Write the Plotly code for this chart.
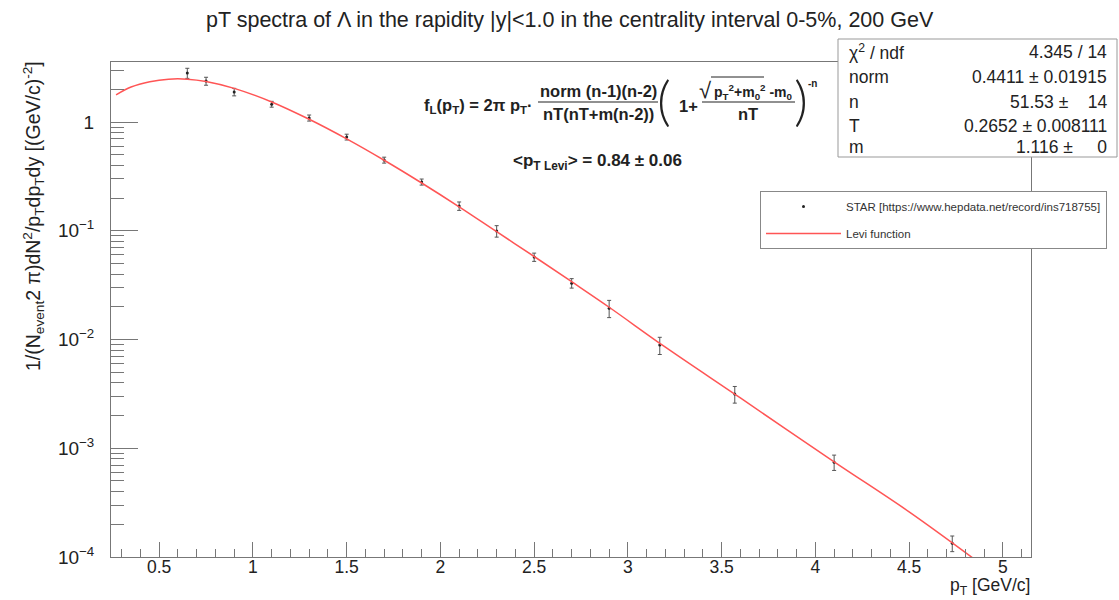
import plotly.graph_objects as go

# ---------------- data ----------------
pt_data = [0.65, 0.75, 0.90, 1.10, 1.30, 1.50, 1.70, 1.90, 2.10, 2.30, 2.50,
           2.70, 2.90, 3.17, 3.57, 4.10, 4.73]
y_data = [2.82, 2.38, 1.89, 1.46, 1.09, 0.728, 0.447, 0.281, 0.169, 0.0994,
          0.0573, 0.033, 0.0194, 0.00888, 0.00315, 0.000745, 0.000134]
y_err = [0.30, 0.20, 0.15, 0.09, 0.07, 0.045, 0.028, 0.018, 0.015, 0.012,
         0.005, 0.0033, 0.0035, 0.0016, 0.00055, 0.00012, 0.000022]

pt_fit = [0.27, 0.35, 0.45, 0.55, 0.65, 0.75, 0.90, 1.10, 1.30, 1.50, 1.70,
          1.90, 2.10, 2.30, 2.50, 2.70, 2.90, 3.20, 3.60, 4.10, 4.50, 4.85]
y_fit = [1.78, 2.10, 2.35, 2.48, 2.48, 2.36, 2.04, 1.53, 1.06, 0.70, 0.445,
         0.275, 0.166, 0.098, 0.058, 0.034, 0.0198, 0.0085, 0.0029, 0.00075,
         0.00026, 0.000095]

x_tickvals = [0.5, 1, 1.5, 2, 2.5, 3, 3.5, 4, 4.5, 5]
x_ticktext = ["0.5", "1", "1.5", "2", "2.5", "3", "3.5", "4", "4.5", "5"]
y_tickvals = [1e-4, 1e-3, 1e-2, 1e-1, 1]
y_ticktext = ["10<sup>\u22124</sup>", "10<sup>\u22123</sup>", "10<sup>\u22122</sup>",
              "10<sup>\u22121</sup>", "1"]

stat_labels = ["\u03c7<sup>2</sup> / ndf", "norm", "n", "T", "m"]
stat_values = ["4.345 / 14", "0.4411 \u00b1 0.01915", "51.53 \u00b1 \u00a0\u00a0\u00a014",
               "0.2652 \u00b1 0.008111", "1.116 \u00b1 \u00a0\u00a0\u00a0\u00a00"]

# ---------------- layout geometry ----------------
W, H = 1119, 600
L, R, T, B = 111, 1031, 62, 557  # plot frame in pixels


def px(x):
    return (x - L) / (R - L)


def py(y):
    return (B - y) / (B - T)


FONT = "Liberation Sans, Arial, Helvetica, sans-serif"
TXT = "#222222"
AXC = "#777777"

fig = go.Figure()

fig.add_trace(go.Scatter(
    x=pt_data, y=y_data, mode="markers",
    name="STAR [https://www.hepdata.net/record/ins718755]",
    legendgroup="a",
    marker=dict(size=3, color="#222222"),
    error_y=dict(type="data", array=y_err, visible=True, color="#555555",
                 thickness=1, width=2),
))

fig.add_trace(go.Scatter(
    x=pt_fit, y=y_fit, mode="lines", name="Levi function", legendgroup="b",
    line=dict(color="rgb(255,85,85)", width=1.5, shape="spline", smoothing=1.0),
))

annotations = []
shapes = []


def ann(text, x, y, xa="center", font=None, angle=0):
    annotations.append(dict(text=text, x=px(x), y=py(y), xref="paper", yref="paper",
                            showarrow=False, xanchor=xa, yanchor="middle", font=font,
                            textangle=angle))


def hline(x0, x1, y, color=TXT, w=1.2):
    shapes.append(dict(type="line", xref="paper", yref="paper", x0=px(x0), x1=px(x1),
                       y0=py(y), y1=py(y), line=dict(color=color, width=w)))


# Title
ann("pT spectra of \u039b in the rapidity |y|<1.0 in the centrality interval 0-5%, 200 GeV",
    570, 20, font=dict(family=FONT, size=21.5, color=TXT))

# Y axis title (ROOT style: right aligned at the top)
ann("1/(N<sub>event</sub>2 \u03c0)dN<sup>2</sup>/p<sub>T</sub>dp<sub>T</sub>dy [(GeV/c)<sup>-2</sup>]",
    33, 216, font=dict(family=FONT, size=19.5, color=TXT), angle=-90)

# X axis title (bottom of the text box at the bottom edge of the picture)
annotations.append(dict(text="p<sub>T</sub> [GeV/c]", x=px(1032), y=0, xref="paper",
                        yref="paper", yshift=-(H - B), showarrow=False,
                        xanchor="right", yanchor="bottom",
                        font=dict(family=FONT, size=17.5, color=TXT)))

# Formula
fb = dict(family=FONT, size=16.5, color=TXT)
paren = dict(family="Lato, Liberation Sans, sans-serif", size=54, color=TXT, weight=300)

ann("<b>f<sub>L</sub>(p<sub>T</sub>) = 2\u03c0 p<sub>T</sub>\u00b7</b>", 535, 106, xa="right", font=fb)
ann("<b>norm (n-1)(n-2)</b>", 598, 91, font=fb)
hline(538, 658, 102)
ann("<b>nT(nT+m(n-2))</b>", 598, 114, font=fb)
ann("(", 664, 99, font=paren)
ann("<b>1+</b>", 688, 106, font=fb)
ann("\u221a", 705, 90, font=dict(family=FONT, size=22, color=TXT))
ann("<b>p<sub>T</sub><sup>2</sup>+m<sub>0</sub><sup>2</sup> -m<sub>0</sub></b>", 712, 92, xa="left",
    font=dict(family=FONT, size=14, color=TXT))
hline(711, 764, 77, w=1)
hline(702, 795, 102)
ann("<b>nT</b>", 748, 114, font=fb)
ann(")", 801, 99, font=paren)
ann("<b>-n</b>", 812, 84, font=dict(family=FONT, size=10, color=TXT))

ann("<b>&lt;p<sub>T Levi</sub>&gt; = 0.84 \u00b1 0.06</b>", 597, 162,
    font=dict(family=FONT, size=17, color=TXT))

# Stats box
shapes.append(dict(type="rect", xref="paper", yref="paper", x0=px(838), x1=px(1117),
                   y0=py(157), y1=py(39), line=dict(color="#999999", width=1),
                   fillcolor="white", layer="above"))
row_y = [52, 77, 102, 126, 147]
for lab, val, ry in zip(stat_labels, stat_values, row_y):
    ann(lab, 847, ry, xa="left", font=dict(family=FONT, size=17.5, color=TXT))
    ann(val, 1109, ry, xa="right", font=dict(family=FONT, size=17.5, color=TXT))

fig.update_layout(
    width=W, height=H, autosize=False,
    margin=dict(l=L, r=W - R, t=T, b=H - B, pad=0),
    paper_bgcolor="white", plot_bgcolor="white",
    font=dict(family=FONT, color=TXT),
    showlegend=True,
    legend=dict(x=px(760), y=py(191), xanchor="left", yanchor="top",
                bgcolor="white", bordercolor="#888888", borderwidth=1,
                font=dict(family=FONT, size=11.5, color="#333333"),
                itemwidth=75, tracegroupgap=8, traceorder="grouped"),
    annotations=annotations, shapes=shapes,
    xaxis=dict(range=[0.243, 5.15], showgrid=False, zeroline=False,
               showline=True, mirror=True, linecolor=AXC, linewidth=1,
               ticks="inside", ticklen=15, tickcolor=AXC, tickwidth=1,
               tickvals=x_tickvals, ticktext=x_ticktext, ticklabelstandoff=-6,
               tickfont=dict(family=FONT, size=17.5, color=TXT),
               minor=dict(ticks="inside", ticklen=8, dtick=0.1, tick0=0,
                          tickcolor=AXC, showgrid=False)),
    yaxis=dict(type="log", range=[-4, 0.552], showgrid=False, zeroline=False,
               showline=True, mirror=True, linecolor=AXC, linewidth=1,
               ticks="inside", ticklen=27, tickcolor=AXC, tickwidth=1,
               tickvals=y_tickvals, ticktext=y_ticktext, ticklabelstandoff=12,
               tickfont=dict(family=FONT, size=19, color=TXT),
               minor=dict(ticks="inside", ticklen=13, dtick="D1",
                          tickcolor=AXC, showgrid=False)),
)

fig.write_html("out.html")
